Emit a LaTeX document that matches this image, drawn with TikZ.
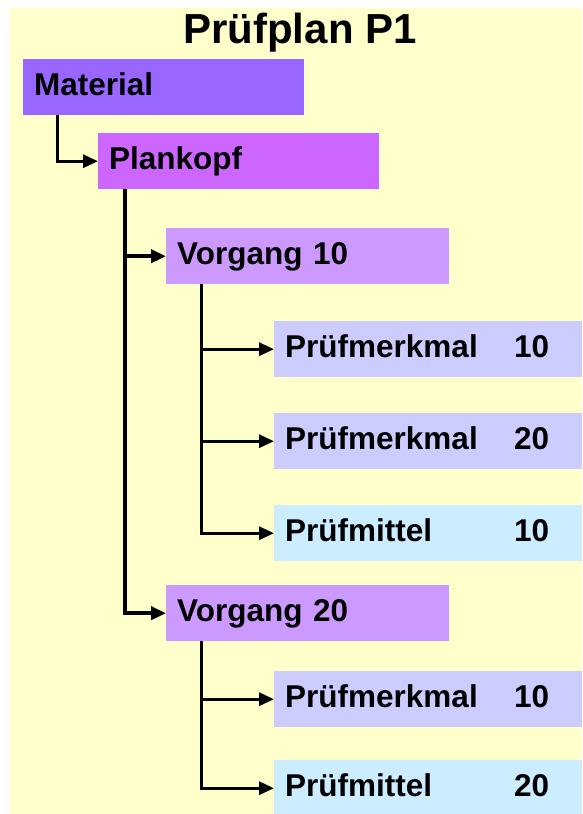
\documentclass[tikz,border=0pt]{standalone}
\usepackage{fontspec}
\setmainfont{Liberation Sans}
\usetikzlibrary{arrows.meta}

\definecolor{paper}{HTML}{FFFFCC}
\definecolor{matcol}{HTML}{9966FF}
\definecolor{plancol}{HTML}{CC66FF}
\definecolor{vgcol}{HTML}{CC99FF}
\definecolor{pmcol}{HTML}{CCCCFF}
\definecolor{pmicol}{HTML}{CCECFF}

\newcommand{\labnum}[2]{\makebox[229pt][l]{#1}#2}

\begin{document}
\begin{tikzpicture}[x=1pt,y=-1pt,
  box/.style={anchor=north west, rectangle, inner xsep=11pt, inner ysep=0pt,
    minimum height=56pt, text height=16pt, text depth=0pt, align=left,
    font=\fontsize{31.5}{36}\selectfont\bfseries},
  conn/.style={line width=3pt, -{Triangle[length=15pt,width=13pt]}},
  trunk/.style={conn, line width=4pt}]

% page and background sheet
\useasboundingbox (0,0) rectangle (582,814);
\fill[white] (0,0) rectangle (582,814);
\fill[paper] (10,8) rectangle (582,814);

% title
\node[anchor=base, font=\fontsize{42}{48}\selectfont\bfseries] (title) at (300,43) {Prüfplan P1};

\begin{scope}
\clip (0,0) rectangle (582,814);
% boxes
\node[box, fill=matcol, text width=259pt] (mat) at (23,59) {Material};
\node[box, fill=plancol, text width=259pt] (plan) at (98,133) {Plankopf};
\node[box, fill=vgcol, text width=261pt] (vg10) at (166,228) {Vorgang 10};
\node[box, fill=pmcol, text width=286pt] (pm11) at (274,321) {\labnum{Prüfmerkmal}{10}};
\node[box, fill=pmcol, text width=286pt] (pm12) at (274,413) {\labnum{Prüfmerkmal}{20}};
\node[box, fill=pmicol, text width=286pt] (pmi1) at (274,505) {\labnum{Prüfmittel}{10}};
\node[box, fill=vgcol, text width=261pt] (vg20) at (166,585) {Vorgang 20};
\node[box, fill=pmcol, text width=286pt] (pm21) at (274,671) {\labnum{Prüfmerkmal}{10}};
\node[box, fill=pmicol, text width=286pt] (pmi2) at (274,760) {\labnum{Prüfmittel}{20}};
\end{scope}

% connectors
\draw[conn] ([xshift=34pt]mat.south west) |- (plan.west);
\draw[trunk] ([xshift=27pt]plan.south west) |- (vg10.west);
\draw[trunk] ([xshift=27pt]plan.south west) |- (vg20.west);
\draw[conn] ([xshift=35pt]vg10.south west) |- (pm11.west);
\draw[conn] ([xshift=35pt]vg10.south west) |- (pm12.west);
\draw[conn] ([xshift=35pt]vg10.south west) |- (pmi1.west);
\draw[conn] ([xshift=35pt]vg20.south west) |- (pm21.west);
\draw[conn] ([xshift=35pt]vg20.south west) |- (pmi2.west);
\end{tikzpicture}
\end{document}
